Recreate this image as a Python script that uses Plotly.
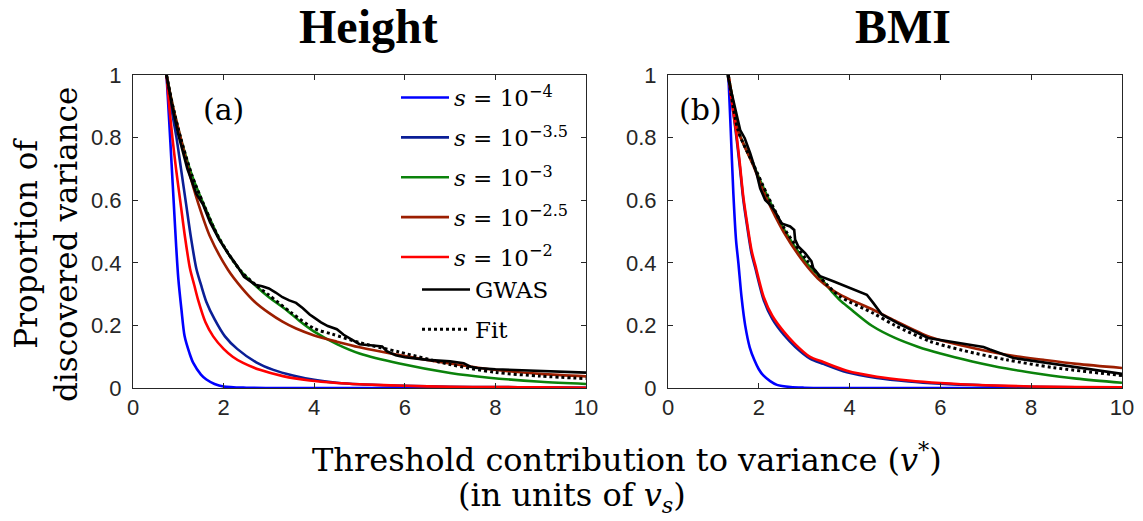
import plotly.graph_objects as go

# ---------------- Height panel (a) ----------------
h_s4_x = [0.74, 0.8, 0.85, 0.9, 0.95, 1.0, 1.07, 1.14, 1.25, 1.33, 1.5, 1.62, 1.8, 2.0, 2.5, 3.0, 10]
h_s4_y = [1.0, 0.85, 0.72, 0.59, 0.46, 0.35, 0.25, 0.165, 0.11, 0.08, 0.043, 0.027, 0.013, 0.005, 0.001, 0.0, 0.0]

h_s35_x = [0.74, 0.84, 0.96, 1.06, 1.17, 1.28, 1.40, 1.5, 1.62, 1.8, 2.03, 2.3, 2.72, 3.1, 3.53, 4.0, 4.5, 5, 6, 7, 8, 9, 10]
h_s35_y = [1.0, 0.9, 0.8, 0.7, 0.59, 0.48, 0.38, 0.33, 0.275, 0.22, 0.165, 0.125, 0.082, 0.058, 0.04, 0.026, 0.017, 0.012, 0.007, 0.004, 0.003, 0.002, 0.001]

h_s3_x = [0.74, 0.88, 1.05, 1.3, 1.55, 1.88, 2.1, 2.36, 2.72, 3.0, 3.38, 3.67, 4.0, 4.5, 5.0, 5.88, 7.0, 7.86, 9.0, 10]
h_s3_y = [1.0, 0.9, 0.8, 0.68, 0.59, 0.484, 0.43, 0.377, 0.325, 0.29, 0.25, 0.215, 0.18, 0.14, 0.11, 0.078, 0.048, 0.033, 0.02, 0.013]

h_s25_x = [0.74, 0.88, 1.05, 1.22, 1.44, 1.7, 2.1, 2.4, 2.69, 3.0, 3.3, 3.6, 4.0, 4.5, 5.0, 5.88, 7.0, 7.86, 9.0, 10]
h_s25_y = [1.0, 0.9, 0.8, 0.7, 0.59, 0.484, 0.377, 0.32, 0.275, 0.24, 0.212, 0.19, 0.168, 0.148, 0.13, 0.105, 0.078, 0.06, 0.045, 0.037]

h_s2_x = [0.74, 0.8, 0.87, 0.95, 1.05, 1.15, 1.26, 1.35, 1.44, 1.6, 1.77, 2.0, 2.2, 2.43, 2.8, 3.31, 3.9, 4.5, 5, 6, 7, 8, 9, 10]
h_s2_y = [1.0, 0.9, 0.8, 0.7, 0.59, 0.48, 0.38, 0.33, 0.28, 0.21, 0.165, 0.125, 0.1, 0.08, 0.058, 0.038, 0.024, 0.016, 0.012, 0.007, 0.004, 0.003, 0.002, 0.001]

h_gwas_x = [0.74, 0.85, 1.0, 1.2, 1.4, 1.55, 1.7, 1.9, 2.1, 2.3, 2.45, 2.55, 2.7, 2.85, 3.0, 3.15, 3.3, 3.45, 3.6, 3.75, 3.9,
            4.0, 4.15, 4.3, 4.5, 4.65, 4.85, 5.0, 5.3, 5.5, 5.6, 5.8, 6.0, 6.5, 7.0, 7.3, 7.45, 7.6, 8.0, 8.5, 9.0, 9.5, 10]
h_gwas_y = [1.0, 0.91, 0.81, 0.70, 0.62, 0.585, 0.53, 0.475, 0.43, 0.39, 0.355, 0.345, 0.33, 0.325, 0.318, 0.305, 0.29,
            0.28, 0.272, 0.255, 0.235, 0.225, 0.21, 0.198, 0.188, 0.17, 0.154, 0.14, 0.136, 0.133, 0.118, 0.105, 0.098,
            0.09, 0.085, 0.079, 0.068, 0.064, 0.06, 0.057, 0.054, 0.051, 0.049]

h_fit_x = [0.74, 0.88, 1.05, 1.3, 1.55, 1.88, 2.36, 2.72, 3.0, 3.5, 4.0, 4.4, 5.0, 5.88, 7.0, 8.0, 9.0, 10]
h_fit_y = [1.0, 0.9, 0.8, 0.68, 0.59, 0.484, 0.377, 0.328, 0.297, 0.24, 0.19, 0.172, 0.145, 0.115, 0.075, 0.05, 0.038, 0.03]

# ---------------- BMI panel (b) ----------------
b_s4_x = [1.33, 1.38, 1.44, 1.5, 1.55, 1.62, 1.7, 1.8, 1.9, 2.0, 2.1, 2.25, 2.4, 2.7, 3.0, 3.5, 10]
b_s4_y = [1.0, 0.83, 0.62, 0.47, 0.4, 0.29, 0.2, 0.13, 0.09, 0.06, 0.04, 0.022, 0.01, 0.003, 0.001, 0.0, 0.0]

b_s35_x = [1.33, 1.42, 1.5, 1.58, 1.66, 1.75, 1.84, 1.92, 2.11, 2.3, 2.55, 2.8, 3.12, 3.42, 3.94, 4.6, 5.3, 6, 7, 8, 9, 10]
b_s35_y = [1.0, 0.9, 0.81, 0.71, 0.6, 0.51, 0.43, 0.385, 0.28, 0.22, 0.17, 0.132, 0.095, 0.077, 0.05, 0.032, 0.021, 0.014, 0.008, 0.004, 0.002, 0.001]

b_s3_x = [1.33, 1.45, 1.55, 1.88, 2.21, 2.58, 3.05, 3.31, 3.64, 3.79, 4.0, 4.5, 5.0, 5.5, 6.0, 6.7, 7.46, 8.2, 9.0, 10]
b_s3_y = [1.0, 0.9, 0.82, 0.713, 0.606, 0.5, 0.4, 0.36, 0.303, 0.28, 0.255, 0.198, 0.16, 0.132, 0.11, 0.085, 0.062, 0.045, 0.03, 0.017]

b_s25_x = [1.33, 1.45, 1.55, 1.88, 2.17, 2.54, 3.0, 3.3, 3.6, 3.79, 4.0, 4.52, 5.0, 5.77, 6.5, 7.46, 8.27, 9.0, 10]
b_s25_y = [1.0, 0.9, 0.82, 0.71, 0.606, 0.5, 0.4, 0.35, 0.315, 0.298, 0.283, 0.25, 0.215, 0.163, 0.135, 0.106, 0.09, 0.077, 0.064]

b_s2_x = [1.33, 1.42, 1.5, 1.58, 1.66, 1.75, 1.84, 1.92, 2.11, 2.3, 2.55, 2.8, 3.12, 3.42, 3.94, 4.6, 5.3, 6, 7, 8, 9, 10]
b_s2_y = [1.0, 0.9, 0.82, 0.72, 0.61, 0.52, 0.44, 0.394, 0.29, 0.23, 0.18, 0.14, 0.1, 0.083, 0.055, 0.036, 0.024, 0.016, 0.009, 0.005, 0.003, 0.002]

b_gwas_x = [1.31, 1.44, 1.59, 1.69, 1.81, 1.95, 2.03, 2.14, 2.25, 2.36, 2.47, 2.5, 2.69, 2.78, 2.8, 2.87, 3.02, 3.16, 3.2,
            3.35, 3.64, 4.01, 4.38, 4.52, 4.71, 5.11, 5.73, 6.95, 7.09, 7.61, 8.56, 10]
b_gwas_y = [1.0, 0.92, 0.824, 0.798, 0.75, 0.686, 0.638, 0.601, 0.585, 0.564, 0.537, 0.526, 0.516, 0.505, 0.474, 0.452,
            0.431, 0.405, 0.383, 0.357, 0.341, 0.32, 0.298, 0.272, 0.235, 0.203, 0.16, 0.131, 0.123, 0.096, 0.075, 0.045]

b_fit_x = [1.33, 1.55, 1.88, 2.21, 2.58, 3.05, 3.5, 3.79, 4.52, 5.0, 5.77, 6.5, 7.46, 8.5, 10]
b_fit_y = [1.0, 0.82, 0.715, 0.61, 0.505, 0.41, 0.33, 0.292, 0.239, 0.2, 0.149, 0.12, 0.09, 0.065, 0.04]

s_labels = ["<i>s</i> = 10<sup>−4</sup>", "<i>s</i> = 10<sup>−3.5</sup>", "<i>s</i> = 10<sup>−3</sup>",
            "<i>s</i> = 10<sup>−2.5</sup>", "<i>s</i> = 10<sup>−2</sup>"]
s_colors = ["#0000FF", "#0A1E96", "#0B820B", "#9C1E00", "#FF0000"]
x_ticks = [0, 2, 4, 6, 8, 10]
y_ticks = [0, 0.2, 0.4, 0.6, 0.8, 1]
y_tick_text = ["0", "0.2", "0.4", "0.6", "0.8", "1"]

panels = [
    ("x", "y", [(h_s4_x, h_s4_y), (h_s35_x, h_s35_y), (h_s3_x, h_s3_y), (h_s25_x, h_s25_y), (h_s2_x, h_s2_y)],
     (h_gwas_x, h_gwas_y), (h_fit_x, h_fit_y), True),
    ("x2", "y2", [(b_s4_x, b_s4_y), (b_s35_x, b_s35_y), (b_s3_x, b_s3_y), (b_s25_x, b_s25_y), (b_s2_x, b_s2_y)],
     (b_gwas_x, b_gwas_y), (b_fit_x, b_fit_y), False),
]

fig = go.Figure()
for xa, ya, curves, gwas, fit, show in panels:
    for i, (cx, cy) in enumerate(curves):
        fig.add_trace(go.Scatter(
            x=cx, y=cy, mode="lines", xaxis=xa, yaxis=ya,
            line=dict(color=s_colors[i], width=2.6, shape="spline", smoothing=0.8),
            name=s_labels[i], showlegend=show, legend="legend", legendgroup=f"s{i}"))
    fig.add_trace(go.Scatter(
        x=gwas[0], y=gwas[1], mode="lines", xaxis=xa, yaxis=ya,
        line=dict(color="black", width=2.6),
        name="GWAS", showlegend=show, legend="legend2", legendgroup="gwas"))
    fig.add_trace(go.Scatter(
        x=fit[0], y=fit[1], mode="lines", xaxis=xa, yaxis=ya,
        line=dict(color="black", width=3, dash="dot", shape="spline", smoothing=0.8),
        name="Fit", showlegend=show, legend="legend2", legendgroup="fit"))

W, H = 1143, 521
axis_common = dict(
    showline=True, linecolor="#262626", linewidth=1, mirror="ticks", automargin=False,
    ticks="inside", ticklen=5, tickcolor="#262626", showgrid=False, zeroline=False,
    tickfont=dict(family="Liberation Sans, Arial", size=22, color="#262626"),
)
legend_common = dict(
    xanchor="left", yanchor="top", bgcolor="rgba(0,0,0,0)", itemwidth=48,
    font=dict(family="DejaVu Serif", size=23, color="black"), tracegroupgap=7, traceorder="grouped",
)
fig.update_layout(
    width=W, height=H, margin=dict(l=0, r=0, t=0, b=0, pad=0, autoexpand=False),
    paper_bgcolor="white", plot_bgcolor="white",
    xaxis=dict(domain=[133 / W, 586 / W], range=[0, 10], tickvals=x_ticks, anchor="y", **axis_common),
    yaxis=dict(domain=[1 - 388 / H, 1 - 75 / H], range=[0, 1], tickvals=y_ticks, ticktext=y_tick_text,
               anchor="x", ticklabelstandoff=6, **axis_common),
    xaxis2=dict(domain=[668 / W, 1122 / W], range=[0, 10], tickvals=x_ticks, anchor="y2", **axis_common),
    yaxis2=dict(domain=[1 - 388 / H, 1 - 75 / H], range=[0, 1], tickvals=y_ticks, ticktext=y_tick_text,
                anchor="x2", ticklabelstandoff=6, **axis_common),
    legend=dict(x=396 / W, y=1 - 76 / H, **legend_common),
    legend2=dict(x=417 / W, y=1 - 268 / H, **legend_common),
    showlegend=True,
)

serif = "DejaVu Serif"
annotations = [
    dict(text="<b>Height</b>", x=368 / W, y=1 - 27 / H, font=dict(family="Liberation Serif", size=48, color="black")),
    dict(text="<b>BMI</b>", x=903 / W, y=1 - 27 / H, font=dict(family="Liberation Serif", size=48, color="black")),
    dict(text="(a)", x=223 / W, y=1 - 110 / H, font=dict(family=serif, size=30, color="black")),
    dict(text="(b)", x=700 / W, y=1 - 110 / H, font=dict(family=serif, size=30, color="black")),
    dict(text="Threshold contribution to variance (<i>v</i><sup>*</sup>)", x=627 / W, y=1 - 458 / H,
         font=dict(family=serif, size=32, color="black")),
    dict(text="(in units of <i>v</i><sub><i>s</i></sub>)", x=572 / W, y=1 - 497 / H,
         font=dict(family=serif, size=32, color="black")),
    dict(text="Proportion of<br>discovered variance", x=46 / W, y=1 - 245 / H, textangle=-90,
         font=dict(family=serif, size=31, color="black")),
]
for a in annotations:
    a.update(xref="paper", yref="paper", showarrow=False, xanchor="center", yanchor="middle")
fig.update_layout(annotations=annotations)

fig.write_html("out.html")
